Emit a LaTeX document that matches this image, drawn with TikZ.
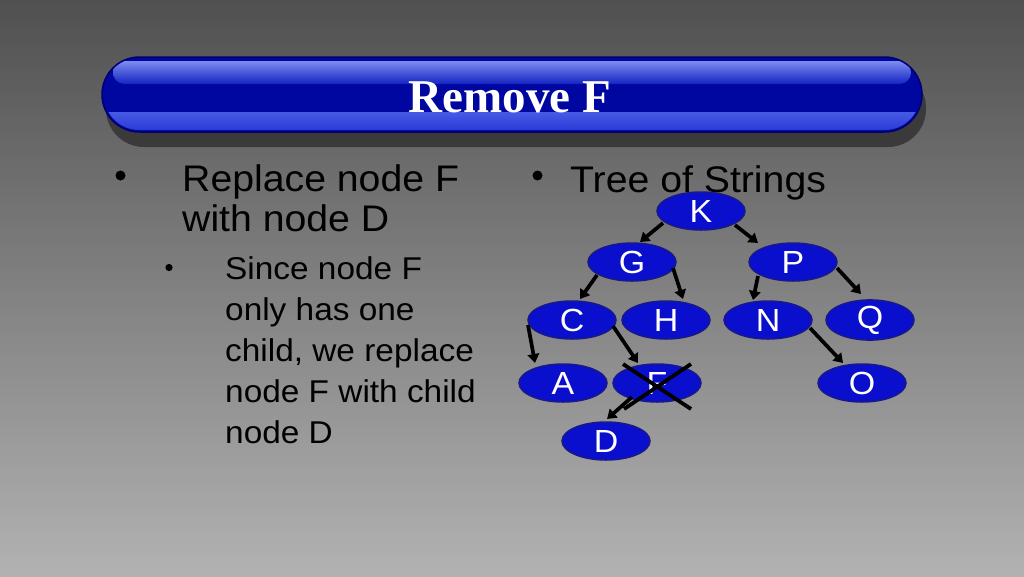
\documentclass[tikz,border=0pt]{standalone}
\usepackage{fontspec}
\setmainfont{Liberation Sans}[FakeStretch=1.06]
\newfontfamily\titlefont{Liberation Serif}
\usetikzlibrary{shapes.geometric,arrows.meta}
\definecolor{bgtop}{RGB}{80,80,80}
\definecolor{bgbot}{RGB}{178,178,178}
\definecolor{barshadow}{RGB}{58,58,58}
\definecolor{barbase}{RGB}{0,6,160}
\definecolor{baredge}{RGB}{0,0,110}
\definecolor{hitop}{RGB}{125,140,238}
\definecolor{hibot}{RGB}{20,35,195}
\definecolor{lowtop}{RGB}{70,90,230}
\definecolor{lowbot}{RGB}{35,50,210}
\definecolor{nodefill}{RGB}{10,14,205}
\definecolor{nodeedge}{RGB}{25,25,135}
\tikzset{
  treenode/.style={ellipse, draw=nodeedge, line width=1.5pt, fill=nodefill,
    minimum width=88pt, minimum height=38pt, inner sep=0pt, text=white,
    font=\fontsize{32}{34}\selectfont},
  treearrow/.style={line width=3.7pt, -{Triangle[length=9pt,width=11.5pt]}, black},
  crossline/.style={line width=3.8pt, black},
  lvlone/.style={anchor=base west, inner sep=0pt, text=black, font=\fontsize{37}{40}\selectfont},
  lvltwo/.style={anchor=base west, inner sep=0pt, text=black, font=\fontsize{31.5}{36}\selectfont},
}
\begin{document}
\begin{tikzpicture}[x=1pt,y=-1pt]
\useasboundingbox (0,0) rectangle (1024,576);
% background
\shade[top color=bgtop, bottom color=bgbot] (0,0) rectangle (1024,576);
% title bar
\fill[barshadow, rounded corners=38] (106,70) rectangle (926,147);
\fill[barbase, rounded corners=37.5] (102,57) rectangle (922,132);
\begin{scope}
  \clip[rounded corners=35] (104,59) rectangle (920,130);
  \shade[top color=lowtop, bottom color=lowbot] (100,112) rectangle (925,135);
\end{scope}
\shade[top color=hitop, bottom color=hibot, rounded corners=11.5] (113,61) rectangle (911,84);
\draw[baredge, line width=1.5pt, rounded corners=37.5] (102,57) rectangle (922,132);
\node[anchor=base, inner sep=0pt, text=white,
  font=\titlefont\bfseries\fontsize{47}{50}\selectfont] (title) at (510,112.7) {Remove F};
% left text
\fill[black] (120.5,175.5) circle (5);
\node[lvlone] (l1a) at (182,191.7) {Replace node F};
\node[lvlone] (l1b) at (182,231.7) {with node D};
\fill[black] (169,267.5) circle (3.6);
\node[lvltwo] (l2a) at (225,279.3) {Since node F};
\node[lvltwo] (l2b) at (225,320.3) {only has one};
\node[lvltwo] (l2c) at (225,361.3) {child, we replace};
\node[lvltwo] (l2d) at (225,402.3) {node F with child};
\node[lvltwo] (l2e) at (225,443.3) {node D};
% right text
\fill[black] (537.5,175.5) circle (5);
\node[lvlone] (r1) at (570,192) {Tree of Strings};
% tree
\node[treenode] (K) at (701,211) {K};
\node[treenode] (G) at (632,262) {G};
\node[treenode] (P) at (793,262) {P};
\node[treenode] (C) at (572,320) {C};
\node[treenode] (H) at (666,320) {H};
\node[treenode] (N) at (768,320) {N};
\node[treenode] (Q) at (870,320) {Q};
\node[treenode] (A) at (563,383) {A};
\node[treenode] (F) at (657,383) {F};
\node[treenode] (O) at (862,383) {O};
\node[treenode] (D) at (606,441) {D};
% arrows
\draw[treearrow] ([shift={(-38,12)}]K.center) -- ([shift={(8,-20)}]G.center);
\draw[treearrow] ([shift={(34,14)}]K.center) -- ([shift={(-35,-19)}]P.center);
\draw[treearrow] ([shift={(-35,13)}]G.center) -- ([shift={(8,-21)}]C.center);
\draw[treearrow] ([shift={(41,6)}]G.center) -- ([shift={(17,-21)}]H.center);
\draw[treearrow] ([shift={(-35,14)}]P.center) -- ([shift={(-15,-20)}]N.center);
\draw[treearrow] ([shift={(44,6)}]P.center) -- ([shift={(-9,-26)}]Q.center);
\draw[treearrow] ([shift={(-44,5)}]C.center) -- ([shift={(-28,-20)}]A.center);
\draw[treearrow] ([shift={(41,6)}]C.center) -- ([shift={(-19,-20)}]F.center);
\draw[treearrow] ([shift={(42,8)}]N.center) -- ([shift={(-19,-20)}]O.center);
\draw[treearrow] ([shift={(-25,14)}]F.center) -- ([shift={(1,-22)}]D.center);
% cross over F
\draw[crossline] ([shift={(-34,-19)}]F.center) -- ([shift={(34,26)}]F.center);
\draw[crossline] ([shift={(34,-19)}]F.center) -- ([shift={(-33,26)}]F.center);
\end{tikzpicture}
\end{document}
